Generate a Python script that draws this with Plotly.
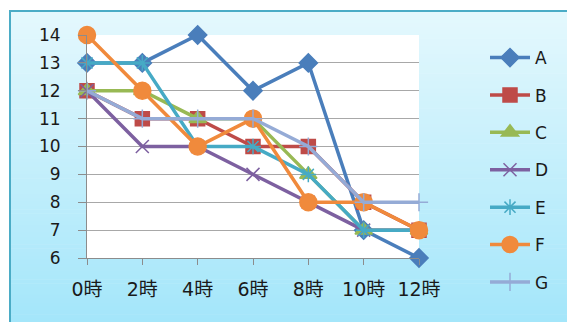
import plotly.graph_objects as go

# Hourly readings for seven series
hours = ["0時", "2時", "4時", "6時", "8時", "10時", "12時"]
series_names = ["A", "B", "C", "D", "E", "F", "G"]
a_vals = [13, 13, 14, 12, 13, 7, 6]
b_vals = [12, 11, 11, 10, 10, 8, 7]
c_vals = [12, 12, 11, 11, 9, 7, 7]
d_vals = [12, 10, 10, 9, 8, 7, 7]
e_vals = [13, 13, 10, 10, 9, 7, 7]
f_vals = [14, 12, 10, 11, 8, 8, 7]
g_vals = [12, 11, 11, 11, 10, 8, 8]
y_ticks = [6, 7, 8, 9, 10, 11, 12, 13, 14]

all_vals = [a_vals, b_vals, c_vals, d_vals, e_vals, f_vals, g_vals]
colors = ["#4a7ebb", "#be4b48", "#98b954", "#7d60a0", "#46aac5", "#f08a3c", "#95abd6"]
symbols = ["diamond", "square", "triangle-up", "x-thin-open", "asterisk-open",
           "circle", "cross-thin-open"]
sizes = [14, 14, 15, 13, 13, 17, 13]

W, H = 567, 322
L, R, T, B = 87, 148, 35, 64
pw, ph = W - L - R, H - T - B


def px_x(px):
    return (px - L) / pw


def px_y(py):
    return (H - B - py) / ph


fig = go.Figure()
for name, vals, col, sym, sz in zip(series_names, all_vals, colors, symbols, sizes):
    fig.add_trace(go.Scatter(
        x=hours, y=vals, name=name, mode="lines+markers",
        legendgroup=name, cliponaxis=False,
        line=dict(color=col, width=3.5),
        marker=dict(symbol=sym, size=sz, color=col,
                    line=dict(color=col, width=1.5)),
    ))

# chart-area background: vertical gradient from pale to light cyan
shapes = []
top_px, bot_px, left_px = 11, H, 10
n = 80
c0 = (228, 248, 253)
c1 = (164, 230, 250)
for i in range(n):
    t = i / (n - 1)
    c = tuple(round(c0[k] + (c1[k] - c0[k]) * t) for k in range(3))
    y0 = top_px + (bot_px - top_px) * i / n
    y1 = top_px + (bot_px - top_px) * (i + 1) / n + 0.6
    shapes.append(dict(type="rect", xref="paper", yref="paper", layer="below",
                       x0=px_x(left_px), x1=px_x(W + 2), y0=px_y(y1), y1=px_y(y0),
                       line=dict(width=0), fillcolor="rgb(%d,%d,%d)" % c))
# frame edge
shapes.append(dict(type="rect", xref="paper", yref="paper", layer="below",
                   x0=px_x(left_px), x1=px_x(W + 5), y0=px_y(H + 5), y1=px_y(top_px),
                   line=dict(width=2, color="#4bacc6"), fillcolor="rgba(0,0,0,0)"))
# white plotting area
shapes.append(dict(type="rect", xref="paper", yref="paper", layer="below",
                   x0=0, x1=1, y0=0, y1=1, line=dict(width=0), fillcolor="white"))

font_fam = "DejaVu Sans, Noto Sans CJK JP, sans-serif"

fig.update_layout(
    width=W, height=H,
    margin=dict(l=L, r=R, t=T, b=B),
    paper_bgcolor="white",
    plot_bgcolor="rgba(0,0,0,0)",
    shapes=shapes,
    font=dict(family=font_fam, size=17, color="#1a1a1a"),
    showlegend=True,
    legend=dict(
        x=px_x(485), xanchor="left", y=px_y(40), yanchor="top",
        bgcolor="rgba(0,0,0,0)", tracegroupgap=12.3,
        font=dict(size=17, family="DejaVu Sans, sans-serif"),
        itemwidth=40, maxheight=330,
    ),
    xaxis=dict(
        type="category", range=[0, 6], showgrid=False,
        showline=True, linecolor="#8c8c8c", linewidth=1,
        ticks="outside", ticklen=6, tickcolor="#8c8c8c",
        ticklabelstandoff=8,
        tickfont=dict(size=19, family=font_fam),
    ),
    yaxis=dict(
        range=[6, 14], tickvals=y_ticks, showgrid=True,
        gridcolor="#a8a8a8", gridwidth=1,
        showline=True, linecolor="#8c8c8c", linewidth=1,
        ticks="outside", ticklen=8, tickcolor="#8c8c8c",
        ticklabelstandoff=14, zeroline=False,
        tickfont=dict(size=17, family="DejaVu Sans, sans-serif"),
    ),
)

fig.write_html("out.html")
